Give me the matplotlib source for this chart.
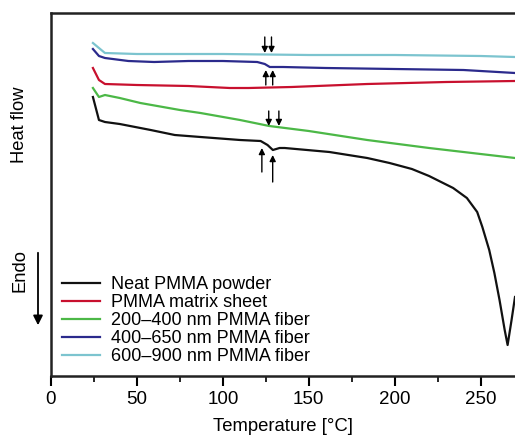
import matplotlib
matplotlib.use("Agg")
import matplotlib.pyplot as plt

plt.rcParams['font.family'] = ['Liberation Sans', 'DejaVu Sans']

# DSC heat-flow traces (arbitrary units, higher = exo)
t_cyan = [24.4, 27.9, 31.4, 50, 100, 150, 200, 250, 270]
hf_cyan = [333, 328, 323, 322, 322, 321, 321, 320, 319]

t_blue = [24.4, 27.9, 31.4, 45, 60, 80, 100, 120, 124.4, 127.3, 135, 160, 200, 240, 270]
hf_blue = [327, 320, 318, 315, 314, 315, 315, 314, 312, 309, 309, 308, 307, 306, 303]

t_red = [24.4, 27.9, 31.4, 50, 80, 104, 115, 140, 184, 230, 270]
hf_red = [308, 296, 292, 291, 290, 288, 288, 289, 292, 294, 295]

t_green = [24.4, 27.9, 31.4, 40, 52, 75, 87, 110, 127, 150, 184, 220, 270]
hf_green = [288, 279, 281, 278, 273, 266, 263, 256, 250, 245, 236, 228, 218]

t_black = [24.4, 27.9, 31.4, 40, 58, 72, 87, 110, 122, 126, 129.1, 133, 136, 162,
           184, 197, 210, 220, 234, 242, 248, 251, 255, 258, 261, 264, 265.7,
           268, 270]
hf_black = [279, 256, 254, 252, 246, 241, 239, 236, 235, 231, 226, 228, 228, 224,
            218, 213, 207, 200, 188, 178, 164, 149, 126, 103, 76, 46, 31,
            56, 79]

labels = ["Neat PMMA powder", "PMMA matrix sheet", "200\u2013400 nm PMMA fiber",
          "400\u2013650 nm PMMA fiber", "600\u2013900 nm PMMA fiber"]
colors = ["#111111", "#c8102e", "#4cb847", "#2b2a8c", "#7cc4cf"]

# glass-transition markers: (temperature, arrow tail, arrow head)
tg_down = [(124.4, 339, 323), (128.3, 339, 323), (126.7, 265, 250), (132.6, 265, 250)]
tg_up = [(125.0, 291, 306), (129.0, 291, 306), (122.7, 204, 228), (129.0, 194, 221)]

fig = plt.figure(figsize=(5.15, 4.37), dpi=100)
ax = fig.add_axes([51 / 515, 61 / 437, 464 / 515, 363 / 437])

series = [(t_black, hf_black), (t_red, hf_red), (t_green, hf_green),
          (t_blue, hf_blue), (t_cyan, hf_cyan)]
handles = []
for (t, hf), c, lab in zip(series, colors, labels):
    h, = ax.plot(t, hf, color=c, lw=1.6, label=lab)
    handles.append(h)

for x, y0, y1 in tg_down + tg_up:
    ax.annotate("", xy=(x, y1), xytext=(x, y0),
                arrowprops=dict(arrowstyle="-|>", color="black", lw=1.0,
                                mutation_scale=9, shrinkA=0, shrinkB=0))

ax.set_xlim(0, 270)
ax.set_ylim(0, 363)
ax.set_xticks(range(0, 251, 50))
ax.set_xticks(range(25, 270, 50), minor=True)
ax.tick_params(axis='x', which='major', direction='out', length=7, width=1.5,
               labelsize=13.5, pad=4)
ax.tick_params(axis='x', which='minor', direction='out', length=4, width=1.2)
ax.set_yticks([])
for s in ['left', 'bottom', 'top']:
    ax.spines[s].set_linewidth(1.8)
    ax.spines[s].set_color('#222222')
ax.spines['right'].set_visible(False)

ax.set_xlabel("Temperature [\u00b0C]", fontsize=13.3, labelpad=7)

fig.text(20 / 515, 1 - 125 / 437, "Heat flow", rotation=90, fontsize=13.2,
         ha='center', va='center')
fig.text(20 / 515, 1 - 270 / 437, "Endo", rotation=90, fontsize=13.2,
         ha='center', va='center')
fig.add_artist(matplotlib.patches.FancyArrowPatch(
    (38 / 515, 1 - 250 / 437), (38 / 515, 1 - 328 / 437),
    transform=fig.transFigure, arrowstyle='-|>', mutation_scale=14,
    color='black', lw=1.3))

ax.legend(handles=handles, loc='lower left', bbox_to_anchor=(0.0, 0.0),
          frameon=False, fontsize=13, handlelength=2.1, handletextpad=0.6,
          labelspacing=0.06, borderaxespad=0.3, borderpad=0.3)

fig.savefig("out.png", dpi=100)
